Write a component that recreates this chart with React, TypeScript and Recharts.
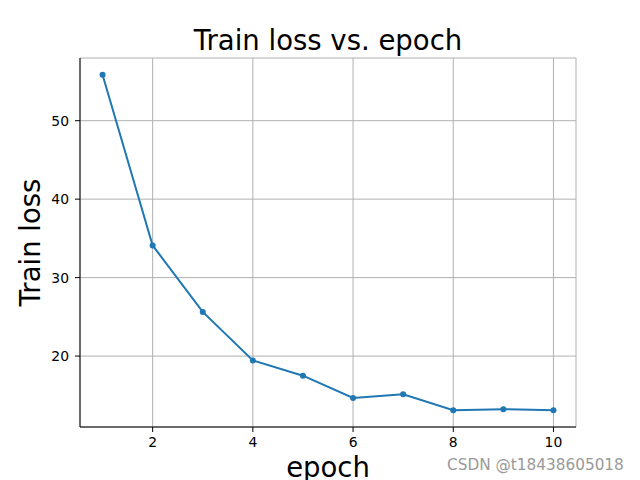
import React from "react";
import { LineChart, Line, XAxis, YAxis, CartesianGrid } from "recharts";

const epochs = [1, 2, 3, 4, 5, 6, 7, 8, 9, 10];
const trainLoss = [55.85, 34.1, 25.63, 19.45, 17.5, 14.66, 15.13, 13.1, 13.23, 13.1];
const xTicks = [2, 4, 6, 8, 10];
const yTicks = [20, 30, 40, 50];

const data = epochs.map((e, i) => ({ epoch: e, loss: trainLoss[i] }));

const FONT = "DejaVu Sans";
const tickStyle = { fontFamily: FONT, fontSize: 13.9, fill: "#000" };
const LABEL_SIZE = 27.5;

export default function App() {
  return (
    <div style={{ position: "absolute", left: 0, top: 0, width: 640, height: 480, background: "#fff" }}>
      <LineChart width={640} height={480} data={data} margin={{ top: 58, right: 64, bottom: 0, left: 0 }}>
        <CartesianGrid stroke="#b0b0b0" strokeWidth={1} />
        <XAxis
          dataKey="epoch"
          type="number"
          domain={[0.55, 10.45]}
          ticks={xTicks}
          height={53}
          stroke="#000"
          tickSize={5}
          tickMargin={5}
          tick={tickStyle}
          allowDataOverflow
          label={{
            content: (p: any) => {
              const vb = p.viewBox;
              return (
                <text x={vb.x + vb.width / 2} y={477} textAnchor="middle" fontFamily={FONT} fontSize={LABEL_SIZE} fill="#000">
                  epoch
                </text>
              );
            },
          }}
        />
        <XAxis
          xAxisId="top"
          orientation="top"
          dataKey="epoch"
          type="number"
          domain={[0.55, 10.45]}
          height={0}
          tick={false}
          tickLine={false}
          stroke="#000"
        />
        <YAxis
          type="number"
          domain={[10.96, 57.99]}
          ticks={yTicks}
          width={80}
          stroke="#000"
          tickSize={5}
          tickMargin={6}
          tick={tickStyle}
          allowDataOverflow
          label={{
            content: () => {
              const cy = 58 + (427 - 58) / 2;
              return (
                <text
                  x={40}
                  y={cy}
                  transform={`rotate(-90, 40, ${cy})`}
                  textAnchor="middle"
                  fontFamily={FONT}
                  fontSize={LABEL_SIZE}
                  fill="#000"
                >
                  Train loss
                </text>
              );
            },
          }}
        />
        <YAxis
          yAxisId="right"
          orientation="right"
          type="number"
          domain={[10.96, 57.99]}
          width={0}
          tick={false}
          tickLine={false}
          stroke="#000"
        />
        <Line
          dataKey="loss"
          stroke="#1f77b4"
          strokeWidth={2}
          dot={{ r: 3, fill: "#1f77b4", stroke: "#1f77b4", strokeWidth: 0 }}
          activeDot={false}
          isAnimationActive={false}
        />
      </LineChart>
      <svg width={640} height={480} style={{ position: "absolute", left: 0, top: 0, pointerEvents: "none" }}>
        <text x={328} y={50} textAnchor="middle" fontFamily={FONT} fontSize={LABEL_SIZE} fill="#000">
          Train loss vs. epoch
        </text>
        <text x={447} y={470} fontFamily={FONT} fontSize={15.3} fill="#999">
          CSDN @t18438605018
        </text>
      </svg>
    </div>
  );
}
